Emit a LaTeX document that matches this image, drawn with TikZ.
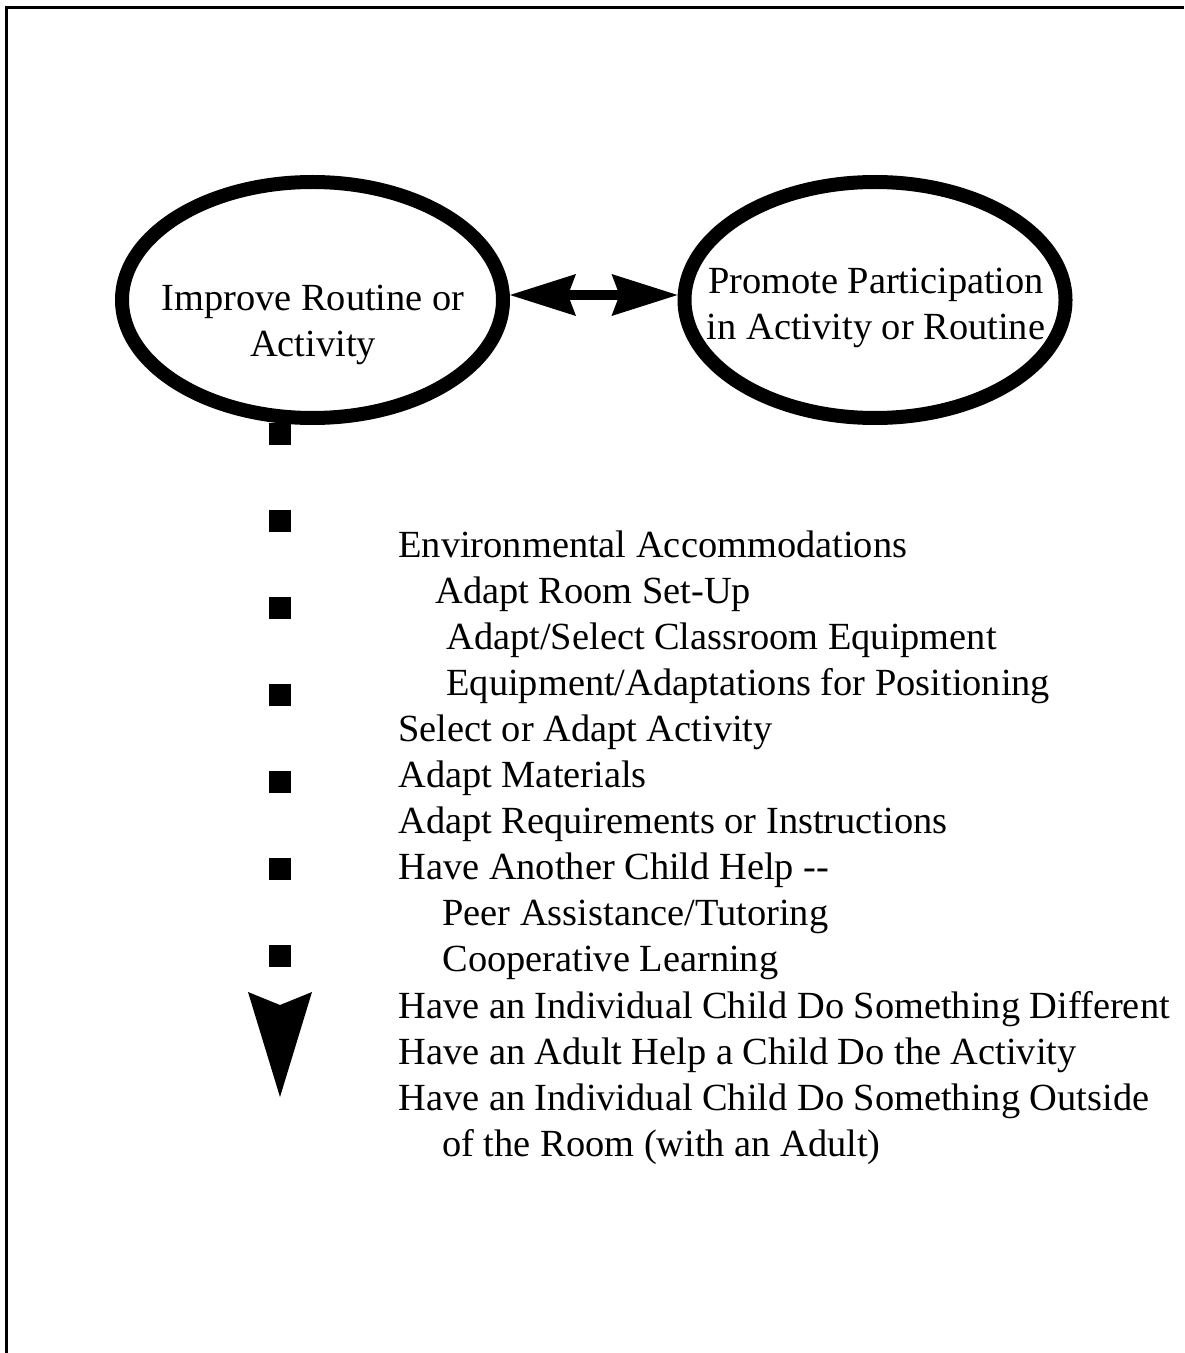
\documentclass[tikz,border=0pt]{standalone}
\usepackage{fontspec}
\setmainfont{Liberation Serif}
\usetikzlibrary{shapes.geometric,arrows.meta}
\begin{document}
\begin{tikzpicture}[x=0.5pt,y=-0.5pt,
  oval/.style={ellipse,draw,line width=7pt,minimum width=190.5pt,minimum height=118pt,inner sep=0pt},
  txt/.style={font=\fontsize{19.2pt}{23pt}\selectfont,inner sep=0pt,anchor=base},
  item/.style={txt,anchor=base west},
  frame/.style={line width=1.5pt},
  dots/.style={line width=11pt,dash pattern=on 11pt off 32.5pt},
  headtip/.style={-{Stealth[length=52.5pt,width=32pt,inset=6.5pt,line width=0pt]}},
  biarrow/.style={line width=5pt,{Stealth[length=33pt,width=21pt,inset=4pt,line width=0pt]}-{Stealth[length=33pt,width=21pt,inset=4pt,line width=0pt]}}
]
\useasboundingbox (0,0) rectangle (1184,1353);
\draw[frame] (6,1353) -- (6,8) -- (1184,8);

\node[oval] (e1) at (312.5,300) {};
\node[oval] (e2) at (875,300) {};

\node[txt] (e1a) at (313,311) {Improve Routine or};
\node[txt] (e1b) at (313,357) {Activity};
\node[txt] (e2a) at (876,294) {Promote Participation};
\node[txt] (e2b) at (876,340) {in Activity or Routine};

\draw[biarrow] ([yshift=2.5pt]e1.east) -- ([yshift=2.5pt]e2.west);

\coordinate (dtop) at (280,423);
\coordinate (dend) at (280,1097);
\draw[dots,headtip] (dtop) -- (dend);

\node[item] (l0)  at (398,557.0)  {Environmental Accommodations};
\node[item] (l1)  at (435,603.1)  {Adapt Room Set-Up};
\node[item] (l2)  at (446,649.2)  {Adapt/Select Classroom Equipment};
\node[item] (l3)  at (446,695.3)  {Equipment/Adaptations for Positioning};
\node[item] (l4)  at (398,741.4)  {Select or Adapt Activity};
\node[item] (l5)  at (398,787.5)  {Adapt Materials};
\node[item] (l6)  at (398,833.6)  {Adapt Requirements or Instructions};
\node[item] (l7)  at (398,879.7)  {Have Another Child Help {-}{-}};
\node[item] (l8)  at (442,925.8)  {Peer Assistance/Tutoring};
\node[item] (l9)  at (442,971.9)  {Cooperative Learning};
\node[item] (l10) at (398,1018.0) {Have an Individual Child Do Something Different};
\node[item] (l11) at (398,1064.1) {Have an Adult Help a Child Do the Activity};
\node[item] (l12) at (398,1110.2) {Have an Individual Child Do Something Outside};
\node[item] (l13) at (442,1156.3) {of the Room (with an Adult)};
\end{tikzpicture}
\end{document}
